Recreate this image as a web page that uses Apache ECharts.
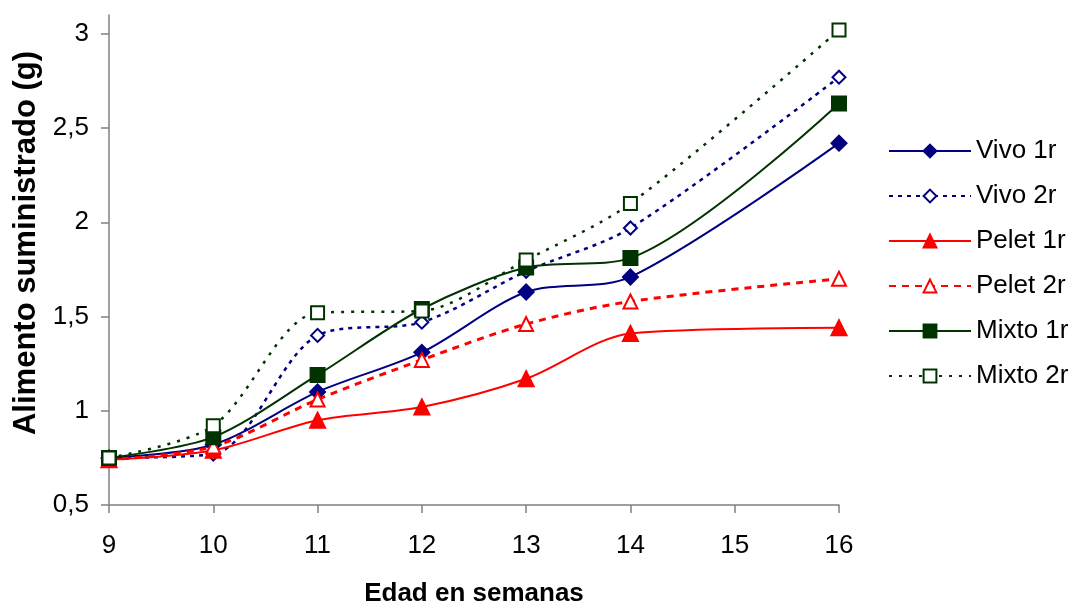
<!DOCTYPE html>
<html>
<head>
<meta charset="utf-8">
<script src="https://cdn.jsdelivr.net/npm/echarts@6/dist/echarts.min.js"></script>
<style>html,body{margin:0;padding:0;background:#fff}#c{width:1074px;height:607px}</style>
</head>
<body>
<div id="c"></div>
<script>
var weeks = [9, 10, 11, 12, 13, 14, 16];
var vivo1 = [0.75, 0.82, 1.10, 1.31, 1.63, 1.71, 2.42];
var vivo2 = [0.75, 0.77, 1.40, 1.47, 1.74, 1.97, 2.77];
var pelet1 = [0.74, 0.79, 0.95, 1.02, 1.17, 1.41, 1.44];
var pelet2 = [0.74, 0.81, 1.06, 1.27, 1.46, 1.58, 1.70];
var mixto1 = [0.75, 0.86, 1.19, 1.54, 1.76, 1.81, 2.63];
var mixto2 = [0.75, 0.92, 1.52, 1.53, 1.80, 2.10, 3.02];
var yTicks = [0.5, 1, 1.5, 2, 2.5, 3];
var seriesNames = ['Vivo 1r', 'Vivo 2r', 'Pelet 1r', 'Pelet 2r', 'Mixto 1r', 'Mixto 2r'];

function pts(vals) { return weeks.map(function (w, i) { return [w, vals[i]]; }); }

var NAVY = '#000080', RED = '#ff0000', GREEN = '#003300';
function mk(name, vals, color, symbol, size, dash, width) {
  return {
    name: name, type: 'line', data: pts(vals), smooth: 0.3,
    symbol: symbol, symbolSize: size, showAllSymbol: true,
    lineStyle: { color: color, width: width || 2, type: dash || 'solid' },
    itemStyle: { color: color, borderColor: color, borderWidth: 2 },
    emphasis: { disabled: true }
  };
}

var chart = echarts.init(document.getElementById('c'));
chart.setOption({
  animation: false,
  textStyle: { fontFamily: 'Liberation Sans, Arial, sans-serif' },
  grid: { left: 109, right: 235, top: 15, bottom: 102, containLabel: false, outerBoundsMode: 'none' },
  legend: {
    orient: 'vertical', left: 888, top: 138, padding: 0,
    itemWidth: 82, itemHeight: 16, itemGap: 19,
    textStyle: { fontSize: 26, color: '#000', lineHeight: 26, fontFamily: 'Liberation Sans, Arial, sans-serif' },
    data: seriesNames
  },
  xAxis: {
    type: 'value', min: 9, max: 16, interval: 1,
    name: 'Edad en semanas', nameLocation: 'middle', nameGap: 76,
    nameTextStyle: { fontSize: 26, fontWeight: 'bold', color: '#000' },
    axisLine: { lineStyle: { color: '#808080', width: 1.5 } },
    axisTick: { show: true, length: 8, lineStyle: { color: '#808080', width: 1.5 } },
    axisLabel: { fontSize: 26, color: '#000', margin: 28 },
    splitLine: { show: false }
  },
  yAxis: {
    type: 'value', min: 0.5, max: 3.1,
    name: 'Alimento suministrado (g)', nameLocation: 'middle', nameGap: 66,
    nameTextStyle: { fontSize: 31, fontWeight: 'bold', color: '#000', padding: [0, 0, 0, 34] },
    axisLine: { show: true, lineStyle: { color: '#808080', width: 1.5 } },
    axisTick: { show: true, length: 8, customValues: yTicks, lineStyle: { color: '#808080', width: 1.5 } },
    axisLabel: { fontSize: 26, color: '#000', margin: 20, customValues: yTicks,
      formatter: function (v) { return String(v).replace('.', ','); } },
    splitLine: { show: false }
  },
  series: [
    mk('Vivo 1r', vivo1, NAVY, 'diamond', 15),
    mk('Vivo 2r', vivo2, NAVY, 'emptyDiamond', 13, [4, 5], 2.5),
    mk('Pelet 1r', pelet1, RED, 'triangle', 15),
    mk('Pelet 2r', pelet2, RED, 'emptyTriangle', 14, [7, 6], 3),
    mk('Mixto 1r', mixto1, GREEN, 'rect', 14),
    mk('Mixto 2r', mixto2, GREEN, 'emptyRect', 13, [3, 7], 2.5)
  ]
});
</script>
</body>
</html>
